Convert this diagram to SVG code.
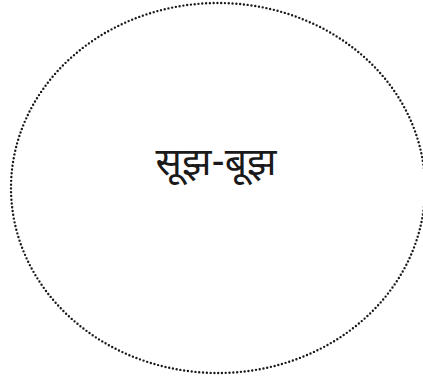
<svg xmlns="http://www.w3.org/2000/svg" width="423" height="376" viewBox="0 0 423 376">
<style>
.dotted{fill:none;stroke:#1a1a1a;stroke-width:2.4;stroke-linecap:round;stroke-dasharray:0 3.8}
.lbl{font-family:"Noto Sans Devanagari","Noto Sans","Lohit Devanagari","Liberation Sans",sans-serif;font-size:39px;fill:#1a1a1a;text-anchor:middle}
</style>
<g id="node1">
<ellipse class="dotted" cx="218" cy="188" rx="207" ry="185"/>
<text class="lbl" x="216" y="175">सूझ-बूझ</text>
</g>
</svg>
